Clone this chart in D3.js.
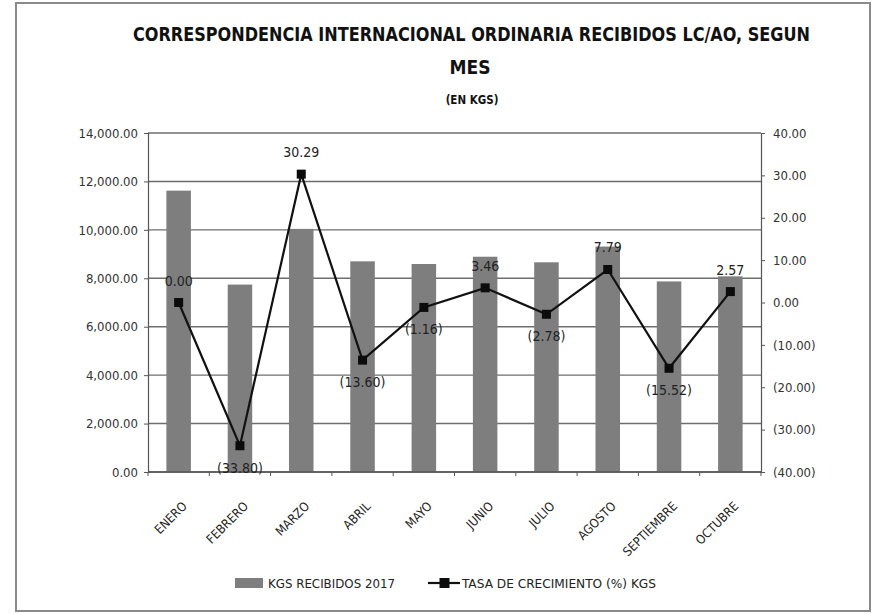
<!DOCTYPE html>
<html>
<head>
<meta charset="utf-8">
<script src="https://cdn.jsdelivr.net/npm/d3@7"></script>
<style>
  body { margin: 0; background: #fff; }
  svg { display: block; }
  text { font-family: "DejaVu Sans Condensed", "Liberation Sans Narrow", "Open Sans", sans-serif; }
</style>
</head>
<body>
<div id="chart"></div>
<script>
var months = ["ENERO", "FEBRERO", "MARZO", "ABRIL", "MAYO", "JUNIO", "JULIO", "AGOSTO", "SEPTIEMBRE", "OCTUBRE"];
var kgs = [11620, 7740, 10040, 8700, 8590, 8890, 8660, 9310, 7870, 8080];
var growth = [0.00, -33.80, 30.29, -13.60, -1.16, 3.46, -2.78, 7.79, -15.52, 2.57];
var leftTicks = [0, 2000, 4000, 6000, 8000, 10000, 12000, 14000];
var rightTicks = [-40, -30, -20, -10, 0, 10, 20, 30, 40];

var width = 872;
var height = 614;
var margin = { top: 133, right: 111, bottom: 142, left: 148 };

var svg = d3.select("#chart").append("svg")
  .attr("width", width)
  .attr("height", height);

// outer frame
svg.append("rect")
  .attr("x", 16).attr("y", 3)
  .attr("width", 854).attr("height", 608)
  .attr("fill", "#fff")
  .attr("stroke", "#8a8a8a")
  .attr("stroke-width", 2);

var x = d3.scaleBand()
  .domain(months)
  .range([margin.left, width - margin.right])
  .paddingInner(0.6)
  .paddingOuter(0.3);

var y = d3.scaleLinear().domain([0, 14000]).range([height - margin.bottom, margin.top]);
var y2 = d3.scaleLinear().domain([-40, 40]).range([height - margin.bottom, margin.top]);

var fmtL = d3.format(",.2f");
function fmtR(v) {
  return v < 0 ? "(" + d3.format(".2f")(-v) + ")" : d3.format(".2f")(v);
}

// gridlines
svg.append("g")
  .selectAll("line")
  .data(leftTicks)
  .enter()
  .append("line")
  .attr("x1", margin.left)
  .attr("x2", width - margin.right)
  .attr("y1", d => y(d))
  .attr("y2", d => y(d))
  .attr("stroke", "#6e6e6e")
  .attr("stroke-width", 1.4);

// bars
svg.append("g")
  .selectAll("rect")
  .data(months)
  .enter()
  .append("rect")
  .attr("x", d => x(d))
  .attr("y", (d, i) => y(kgs[i]))
  .attr("width", x.bandwidth())
  .attr("height", (d, i) => y(0) - y(kgs[i]))
  .attr("fill", "#7e7e7e");

// left axis
var axL = svg.append("g")
  .attr("transform", "translate(" + margin.left + ",0)")
  .call(d3.axisLeft(y).tickValues(leftTicks).tickFormat(fmtL).tickSize(4).tickPadding(6));
axL.select(".domain").attr("stroke", "#555").attr("stroke-width", 1.2);
axL.selectAll(".tick line").attr("stroke", "#555");
axL.selectAll("text").attr("font-size", 13).attr("fill", "#333").style("font-family", "'DejaVu Sans Condensed', sans-serif");

// right axis
var axR = svg.append("g")
  .attr("transform", "translate(" + (width - margin.right) + ",0)")
  .call(d3.axisRight(y2).tickValues(rightTicks).tickFormat(fmtR).tickSize(4).tickPadding(8));
axR.select(".domain").attr("stroke", "#555").attr("stroke-width", 1.2);
axR.selectAll(".tick line").attr("stroke", "#555");
axR.selectAll("text").attr("font-size", 13).attr("fill", "#333").style("font-family", "'DejaVu Sans Condensed', sans-serif");

// bottom axis (ticks on category boundaries)
var bounds = d3.range(months.length + 1).map(i => margin.left + i * x.step());
svg.append("line")
  .attr("x1", margin.left).attr("x2", width - margin.right)
  .attr("y1", y(0)).attr("y2", y(0))
  .attr("stroke", "#555").attr("stroke-width", 1.5);
svg.append("g")
  .selectAll("line")
  .data(bounds)
  .enter()
  .append("line")
  .attr("x1", d => d).attr("x2", d => d)
  .attr("y1", y(0)).attr("y2", y(0) + 4)
  .attr("stroke", "#555");

svg.append("g")
  .selectAll("text")
  .data(months)
  .enter()
  .append("text")
  .attr("transform", d => "translate(" + (x(d) + x.bandwidth() / 2 + 9) + "," + (y(0) + 35) + ") rotate(-45)")
  .attr("text-anchor", "end")
  .attr("font-size", 12.5)
  .attr("fill", "#222")
  .text(d => d);

// growth line
var line = d3.line()
  .x((d, i) => x(months[i]) + x.bandwidth() / 2)
  .y(d => y2(d));

svg.append("path")
  .datum(growth)
  .attr("d", line)
  .attr("fill", "none")
  .attr("stroke", "#111")
  .attr("stroke-width", 2.2);

svg.append("g")
  .selectAll("rect")
  .data(growth)
  .enter()
  .append("rect")
  .attr("x", (d, i) => x(months[i]) + x.bandwidth() / 2 - 4.5)
  .attr("y", d => y2(d) - 4.5)
  .attr("width", 9)
  .attr("height", 9)
  .attr("fill", "#0c0c0c");

// data labels
svg.append("g")
  .selectAll("text")
  .data(growth)
  .enter()
  .append("text")
  .attr("x", (d, i) => x(months[i]) + x.bandwidth() / 2)
  .attr("y", d => d >= 0 ? y2(d) - 17 : y2(d) + 27)
  .attr("text-anchor", "middle")
  .attr("font-size", 14)
  .attr("fill", "#222")
  .text(d => fmtR(d));

// titles
svg.append("text")
  .attr("x", 133).attr("y", 41)
  .attr("textLength", 677)
  .attr("lengthAdjust", "spacingAndGlyphs")
  .attr("font-size", 19)
  .attr("font-weight", "bold")
  .attr("fill", "#111")
  .text("CORRESPONDENCIA INTERNACIONAL ORDINARIA RECIBIDOS LC/AO, SEGUN");

svg.append("text")
  .attr("x", 470).attr("y", 74)
  .attr("text-anchor", "middle")
  .attr("font-size", 19)
  .attr("font-weight", "bold")
  .attr("fill", "#111")
  .text("MES");

svg.append("text")
  .attr("x", 472).attr("y", 104)
  .attr("text-anchor", "middle")
  .attr("font-size", 11.5)
  .attr("font-weight", "bold")
  .attr("fill", "#111")
  .text("(EN KGS)");

// legend
var legend = svg.append("g").attr("transform", "translate(0,583)");
legend.append("rect")
  .attr("x", 235).attr("y", -5)
  .attr("width", 28).attr("height", 10)
  .attr("fill", "#7e7e7e");
legend.append("text")
  .attr("x", 268).attr("y", 5)
  .attr("textLength", 127)
  .attr("lengthAdjust", "spacingAndGlyphs")
  .attr("font-size", 13)
  .attr("fill", "#222")
  .text("KGS RECIBIDOS  2017");
legend.append("line")
  .attr("x1", 428).attr("x2", 460)
  .attr("y1", 0).attr("y2", 0)
  .attr("stroke", "#111").attr("stroke-width", 2.2);
legend.append("rect")
  .attr("x", 439.5).attr("y", -5)
  .attr("width", 10).attr("height", 10)
  .attr("fill", "#0c0c0c");
legend.append("text")
  .attr("x", 462).attr("y", 5)
  .attr("textLength", 194)
  .attr("lengthAdjust", "spacingAndGlyphs")
  .attr("font-size", 13)
  .attr("fill", "#222")
  .text("TASA DE CRECIMIENTO  (%) KGS");
</script>
</body>
</html>
